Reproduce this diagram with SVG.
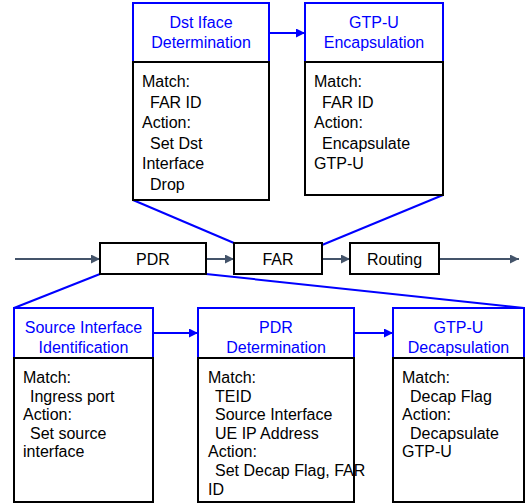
<svg xmlns="http://www.w3.org/2000/svg" width="527" height="504" viewBox="0 0 527 504">
<style>
text{font-family:"Liberation Sans",Arial,sans-serif;font-size:16px;fill:#000}
.h{fill:#0000ff;text-anchor:middle}
.c{text-anchor:middle}
.hd{fill:#fff;stroke:#0000ff;stroke-width:2}
.bd{fill:#fff;stroke:#000;stroke-width:2}
.bl{stroke:#0000ff;stroke-width:2;fill:none}
.gr{stroke:#44546a;stroke-width:2;fill:none}
</style>
<defs>
<marker id="ab" viewBox="0 0 10 10" refX="10" refY="5" markerWidth="4.5" markerHeight="4.5" orient="auto" markerUnits="strokeWidth"><path d="M0,0L10,5L0,10z" fill="#0000ff"/></marker>
<marker id="ag" viewBox="0 0 10 10" refX="10" refY="5" markerWidth="4.5" markerHeight="4.5" orient="auto" markerUnits="strokeWidth"><path d="M0,0L10,5L0,10z" fill="#44546a"/></marker>
</defs>
<g id="connectors">
<line class="bl" x1="133" y1="200" x2="234" y2="243"/>
<line class="bl" x1="443" y1="195" x2="322" y2="245"/>
<line class="bl" x1="100" y1="274" x2="14" y2="308"/>
<line class="bl" x1="206" y1="274" x2="524" y2="308"/>
<line class="bl" x1="269" y1="33" x2="305" y2="33" marker-end="url(#ab)"/>
<line class="bl" x1="153" y1="333" x2="198" y2="333" marker-end="url(#ab)"/>
<line class="bl" x1="354" y1="333" x2="393" y2="333" marker-end="url(#ab)"/>
<line class="gr" x1="15" y1="259" x2="100" y2="259" marker-end="url(#ag)"/>
<line class="gr" x1="206" y1="259" x2="234" y2="259" marker-end="url(#ag)"/>
<line class="gr" x1="322" y1="259" x2="350" y2="259" marker-end="url(#ag)"/>
<line class="gr" x1="439" y1="259" x2="519" y2="259" marker-end="url(#ag)"/>
</g>
<g id="dst-iface">
<rect class="hd" x="133" y="3" width="136" height="59"/>
<rect class="bd" x="133" y="62" width="136" height="138"/>
<text class="h" x="201" y="28">Dst Iface</text>
<text class="h" x="201" y="48">Determination</text>
<text x="142" y="87">Match:</text>
<text x="150" y="107.5">FAR ID</text>
<text x="142" y="128">Action:</text>
<text x="150" y="148.5">Set Dst</text>
<text x="142" y="169">Interface</text>
<text x="150" y="189.5">Drop</text>
</g>
<g id="gtp-encap">
<rect class="hd" x="305" y="3" width="138" height="59"/>
<rect class="bd" x="305" y="62" width="138" height="133"/>
<text class="h" x="374" y="28">GTP-U</text>
<text class="h" x="374" y="48">Encapsulation</text>
<text x="314" y="87">Match:</text>
<text x="322" y="107.5">FAR ID</text>
<text x="314" y="128">Action:</text>
<text x="322" y="148.5">Encapsulate</text>
<text x="314" y="169">GTP-U</text>
</g>
<g id="pdr">
<rect class="bd" x="100" y="243" width="106" height="31"/>
<text class="c" x="153" y="265">PDR</text>
</g>
<g id="far">
<rect class="bd" x="234" y="243" width="88" height="31"/>
<text class="c" x="278" y="265">FAR</text>
</g>
<g id="routing">
<rect class="bd" x="350" y="243" width="89" height="31"/>
<text class="c" x="394.5" y="265">Routing</text>
</g>
<g id="source-iface">
<rect class="hd" x="14" y="308" width="139" height="50"/>
<rect class="bd" x="14" y="358" width="139" height="144"/>
<text class="h" x="83.5" y="333">Source Interface</text>
<text class="h" x="83.5" y="353">Identification</text>
<text x="23" y="383">Match:</text>
<text x="30" y="401.5">Ingress port</text>
<text x="23" y="420">Action:</text>
<text x="30" y="438.5">Set source</text>
<text x="23" y="457">interface</text>
</g>
<g id="pdr-det">
<rect class="hd" x="198" y="308" width="156" height="50"/>
<rect class="bd" x="198" y="358" width="156" height="144"/>
<text class="h" x="276" y="333">PDR</text>
<text class="h" x="276" y="353">Determination</text>
<text x="208" y="383">Match:</text>
<text x="215" y="401.5">TEID</text>
<text x="215" y="420">Source Interface</text>
<text x="215" y="438.5">UE IP Address</text>
<text x="208" y="457">Action:</text>
<text x="215" y="476">Set Decap Flag, FAR</text>
<text x="208" y="495">ID</text>
</g>
<g id="gtp-decap">
<rect class="hd" x="393" y="308" width="131" height="50"/>
<rect class="bd" x="393" y="358" width="131" height="144"/>
<text class="h" x="458.5" y="333">GTP-U</text>
<text class="h" x="458.5" y="353">Decapsulation</text>
<text x="402" y="383">Match:</text>
<text x="410" y="401.5">Decap Flag</text>
<text x="402" y="420">Action:</text>
<text x="410" y="438.5">Decapsulate</text>
<text x="402" y="457">GTP-U</text>
</g>
</svg>
